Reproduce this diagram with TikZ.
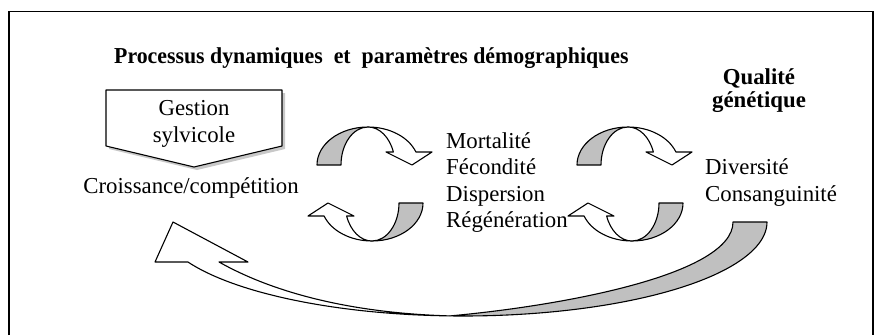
\documentclass[tikz,border=0pt]{standalone}
\usepackage{fontspec}
\setmainfont{Liberation Serif}
\definecolor{bandgray}{RGB}{192,192,192}
\definecolor{shadowgray}{RGB}{200,200,200}
\newcommand\dgbody{\fontsize{22.8}{26}\selectfont}
\begin{document}
\begin{tikzpicture}[x=1pt,y=-1pt,
  outl/.style={draw=black,line width=1.1pt,line join=round},
  grayband/.style={outl,fill=bandgray},
  whiteband/.style={outl,fill=white},
  lbl/.style={inner sep=0pt,font=\dgbody},
  blbl/.style={inner sep=0pt,font=\dgbody\bfseries},
  curvarrow/.pic={
    \path[grayband] (-51,0) arc[start angle=180,end angle=270,x radius=51,y radius=38]
      arc[start angle=270,end angle=180,x radius=27,y radius=38] -- cycle;
    \path[whiteband] (0,-38) arc[start angle=270,end angle=340,x radius=51,y radius=38]
      -- (64,-13) -- (44,0) -- (18,-13) -- (25.37,-13)
      arc[start angle=340,end angle=270,x radius=27,y radius=38] -- cycle;
  }]
\useasboundingbox (0,0) rectangle (882,335);
% frame
\draw[line width=1.2pt] (9,335) -- (9,11.5) -- (873,11.5) -- (873,335);

% title and heading
\node[blbl,anchor=base west,xscale=0.957,transform shape] (title) at (114,63) {Processus dynamiques\ \ et\ \ paramètres démographiques};
\node[blbl,anchor=base] (qual) at (759,84) {Qualité};
\node[blbl,anchor=base] (gen) at (759,107) {génétique};

% Gestion sylvicole box
\path[fill=shadowgray] (109,93) -- (285,93) -- (285,149) -- (197,170) -- (109,149) -- cycle;
\path[outl,fill=white] (106,90) -- (282,90) -- (282,146) -- (194,167) -- (106,146) -- cycle;
\node[lbl,anchor=base] (gest) at (194,115) {Gestion};
\node[lbl,anchor=base] (sylv) at (194,142) {sylvicole};
\node[lbl,anchor=base] (crois) at (191,193) {Croissance/compétition};

% demographic parameters
\node[lbl,anchor=base west] (mort) at (446,148) {Mortalité};
\node[lbl,anchor=base west] (fec) at (446,174.5) {Fécondité};
\node[lbl,anchor=base west] (disp) at (446,201) {Dispersion};
\node[lbl,anchor=base west] (regen) at (446,227.5) {Régénération};

% genetic quality
\node[lbl,anchor=base west] (div) at (705,174.5) {Diversité};
\node[lbl,anchor=base west] (cons) at (705,201) {Consanguinité};

% small curved arrows
\pic at (368,165) {curvarrow};
\pic[rotate=180] at (372,203) {curvarrow};
\pic at (628,165) {curvarrow};
\pic[rotate=180] at (632,203) {curvarrow};

% big return arrow
\coordinate (X) at (450,315.9);
\path[grayband] (767,222) arc[start angle=0,end angle=92.45,x radius=304,y radius=94]
  .. controls (560,306) and (733,275) .. (733,222) -- cycle;
\path[whiteband] (X) arc[start angle=92.45,end angle=154.8,x radius=304,y radius=94]
  -- (155,262) -- (173,222) -- (248,262) -- (219,262)
  .. controls (290,302) and (380,314) .. (X) -- cycle;
\end{tikzpicture}
\end{document}
